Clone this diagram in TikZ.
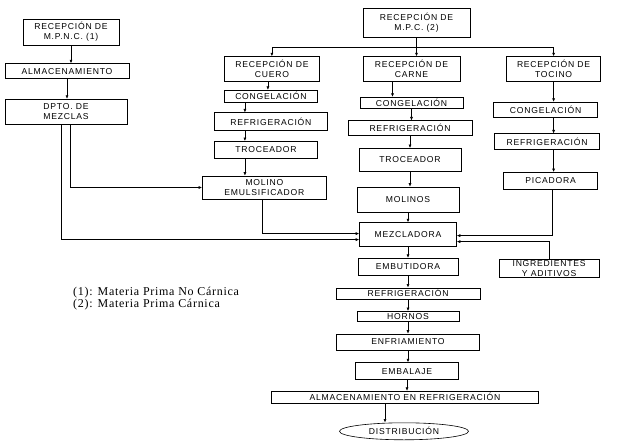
\documentclass[tikz,border=0pt]{standalone}
\usepackage{fontspec}
\setmainfont{Liberation Serif}
\setsansfont{Liberation Sans}[LetterSpace=9]
\usetikzlibrary{positioning,arrows.meta,shapes.geometric}

\begin{document}
\begin{tikzpicture}[
    proc/.style 2 args={draw=black, line width=0.6pt, inner sep=0pt, align=center,
      minimum width=#1, minimum height=#2,
      font=\sffamily\fontsize{8.6}{9.8}\selectfont},
    arr/.style={line width=0.6pt, -{Latex[length=3.5pt,width=3pt]}}]
  \useasboundingbox (0,0) rectangle (618pt,445pt);
  % materia prima no carnica
  \node[proc={96pt}{26pt}] (mpnc) at (71pt,413pt) {RECEPCIÓN DE\\M.P.N.C. (1)};
  \node[proc={124pt}{15pt}, below=18pt of mpnc, xshift=-4pt] (alm) {ALMACENAMIENTO};
  \node[proc={122pt}{25pt}, below=20pt of alm, xshift=-1pt] (dpto) {DPTO. DE\\MEZCLAS};

  % materia prima carnica
  \node[proc={107pt}{29pt}] (mpc) at (416.5pt,422.5pt) {RECEPCIÓN DE\\M.P.C. (2)};
  \node[proc={97pt}{25pt}, below=19pt of mpc, xshift=-5pt] (carne) {RECEPCIÓN DE\\CARNE};
  \node[proc={95pt}{25pt}, left=43pt of carne] (cuero) {RECEPCIÓN DE\\CUERO};
  \node[proc={94pt}{25pt}, right=46pt of carne] (tocino) {RECEPCIÓN DE\\TOCINO};

  % cuero
  \node[proc={93pt}{12pt}, below=8pt of cuero, xshift=-1pt] (congA) {CONGELACIÓN};
  \node[proc={113pt}{18pt}, below=10pt of congA] (refA) {REFRIGERACIÓN};
  \node[proc={103pt}{17pt}, below=10pt of refA, xshift=-5pt] (trocA) {TROCEADOR};
  \node[proc={124pt}{23pt}, below=17pt of trocA, xshift=-1.5pt] (molino) {MOLINO\\EMULSIFICADOR};

  % carne
  \node[proc={103pt}{11pt}, below=15pt of carne] (congB) {CONGELACIÓN};
  \node[proc={124pt}{15pt}, below=12pt of congB, xshift=-1.5pt] (refB) {REFRIGERACIÓN};
  \node[proc={102pt}{23pt}, below=12pt of refB] (trocB) {TROCEADOR};
  \node[proc={102pt}{25pt}, below=15pt of trocB, xshift=-2pt] (molinos) {MOLINOS};
  \node[proc={97pt}{24pt}, below=10pt of molinos] (mezcla) {MEZCLADORA};

  % tocino
  \node[proc={104pt}{15pt}, below=20pt of tocino, xshift=-8pt] (congC) {CONGELACIÓN};
  \node[proc={105pt}{16pt}, below=16pt of congC, xshift=1.5pt] (refC) {REFRIGERACIÓN};
  \node[proc={94pt}{17pt}, below=22pt of refC, xshift=3.5pt] (picadora) {PICADORA};
  \node[proc={100pt}{18pt}, right=42pt of mezcla, yshift=-34pt] (ingred) {INGREDIENTES\\Y ADITIVOS};

  % proceso final
  \node[proc={100pt}{17pt}, below=11pt of mezcla] (embut) {EMBUTIDORA};
  \node[proc={144pt}{11pt}, below=12pt of embut] (refD) {REFRIGERACIÓN};
  \node[proc={102pt}{10pt}, below=12pt of refD] (hornos) {HORNOS};
  \node[proc={143pt}{16pt}, below=12pt of hornos] (enfri) {ENFRIAMIENTO};
  \node[proc={103pt}{17pt}, below=12pt of enfri, xshift=-1pt] (embal) {EMBALAJE};
  \node[proc={267pt}{12pt}, below=11pt of embal, xshift=-2pt] (almref) {ALMACENAMIENTO EN REFRIGERACIÓN};
  \node[proc={129pt}{17pt}, ellipse, below=19pt of almref, xshift=-1pt] (dist) {DISTRIBUCIÓN};

  \node[anchor=north west, align=left, inner sep=0pt,
    font=\fontsize{12}{9.8}\selectfont\addfontfeature{LetterSpace=6}] (nota) at (73pt,158pt)
    {(1): Materia Prima No Cárnica\\(2): Materia Prima Cárnica};

  % conectores
  \draw[arr] (mpnc.south) -- (mpnc.south |- alm.north);
  \draw[arr] (alm.south) -- (alm.south |- dpto.north);
  \draw[arr] ([xshift=4pt]dpto.south) |- (molino.west);
  \draw[arr] ([xshift=-5pt]dpto.south) |- ([yshift=-5pt]mezcla.west);

  \coordinate (split) at ([yshift=-10pt]mpc.south);
  \draw[arr] (mpc.south) -- (mpc.south |- carne.north);
  \draw[arr] (split) -| (cuero.north);
  \draw[arr] (split) -| (tocino.north);

  \draw[arr] ([xshift=-4pt]cuero.south) -- ([xshift=-4pt]cuero.south |- congA.north);
  \draw[arr] ([xshift=-26pt]congA.south) -- ([xshift=-26pt]congA.south |- refA.north);
  \draw[arr] ([xshift=-26pt]refA.south) -- ([xshift=-26pt]refA.south |- trocA.north);
  \draw[arr] ([xshift=-21pt]trocA.south) -- ([xshift=-21pt]trocA.south |- molino.north);
  \draw[arr] ([xshift=-2pt]molino.south) |- ([yshift=1pt]mezcla.west);

  \draw[arr] ([xshift=-19pt]carne.south) -- ([xshift=-19pt]carne.south |- congB.north);
  \draw[arr] (congB.south) -- (congB.south |- refB.north);
  \draw[arr] (refB.south) -- (refB.south |- trocB.north);
  \draw[arr] (trocB.south) -- (trocB.south |- molinos.north);
  \draw[arr] (molinos.south) -- (molinos.south |- mezcla.north);

  \draw[arr] (tocino.south) -- (tocino.south |- congC.north);
  \draw[arr] (tocino.south |- congC.south) -- (tocino.south |- refC.north);
  \draw[arr] (tocino.south |- refC.south) -- (tocino.south |- picadora.north);
  \draw[arr] ([xshift=2pt]picadora.south) |- ([yshift=-1pt]mezcla.east);
  \draw[arr] (ingred.north) |- ([yshift=-7pt]mezcla.east);

  \draw[arr] (mezcla.south) -- (mezcla.south |- embut.north);
  \draw[arr] (embut.south) -- (embut.south |- refD.north);
  \draw[arr] (refD.south) -- (refD.south |- hornos.north);
  \draw[arr] (hornos.south) -- (hornos.south |- enfri.north);
  \draw[arr] (enfri.south) -- (enfri.south |- embal.north);
  \draw[arr] (embal.south) -- (embal.south |- almref.north);
  \draw[arr] ([xshift=-20pt]almref.south) -- ([xshift=-20pt]almref.south |- dist.north);
\end{tikzpicture}
\end{document}
